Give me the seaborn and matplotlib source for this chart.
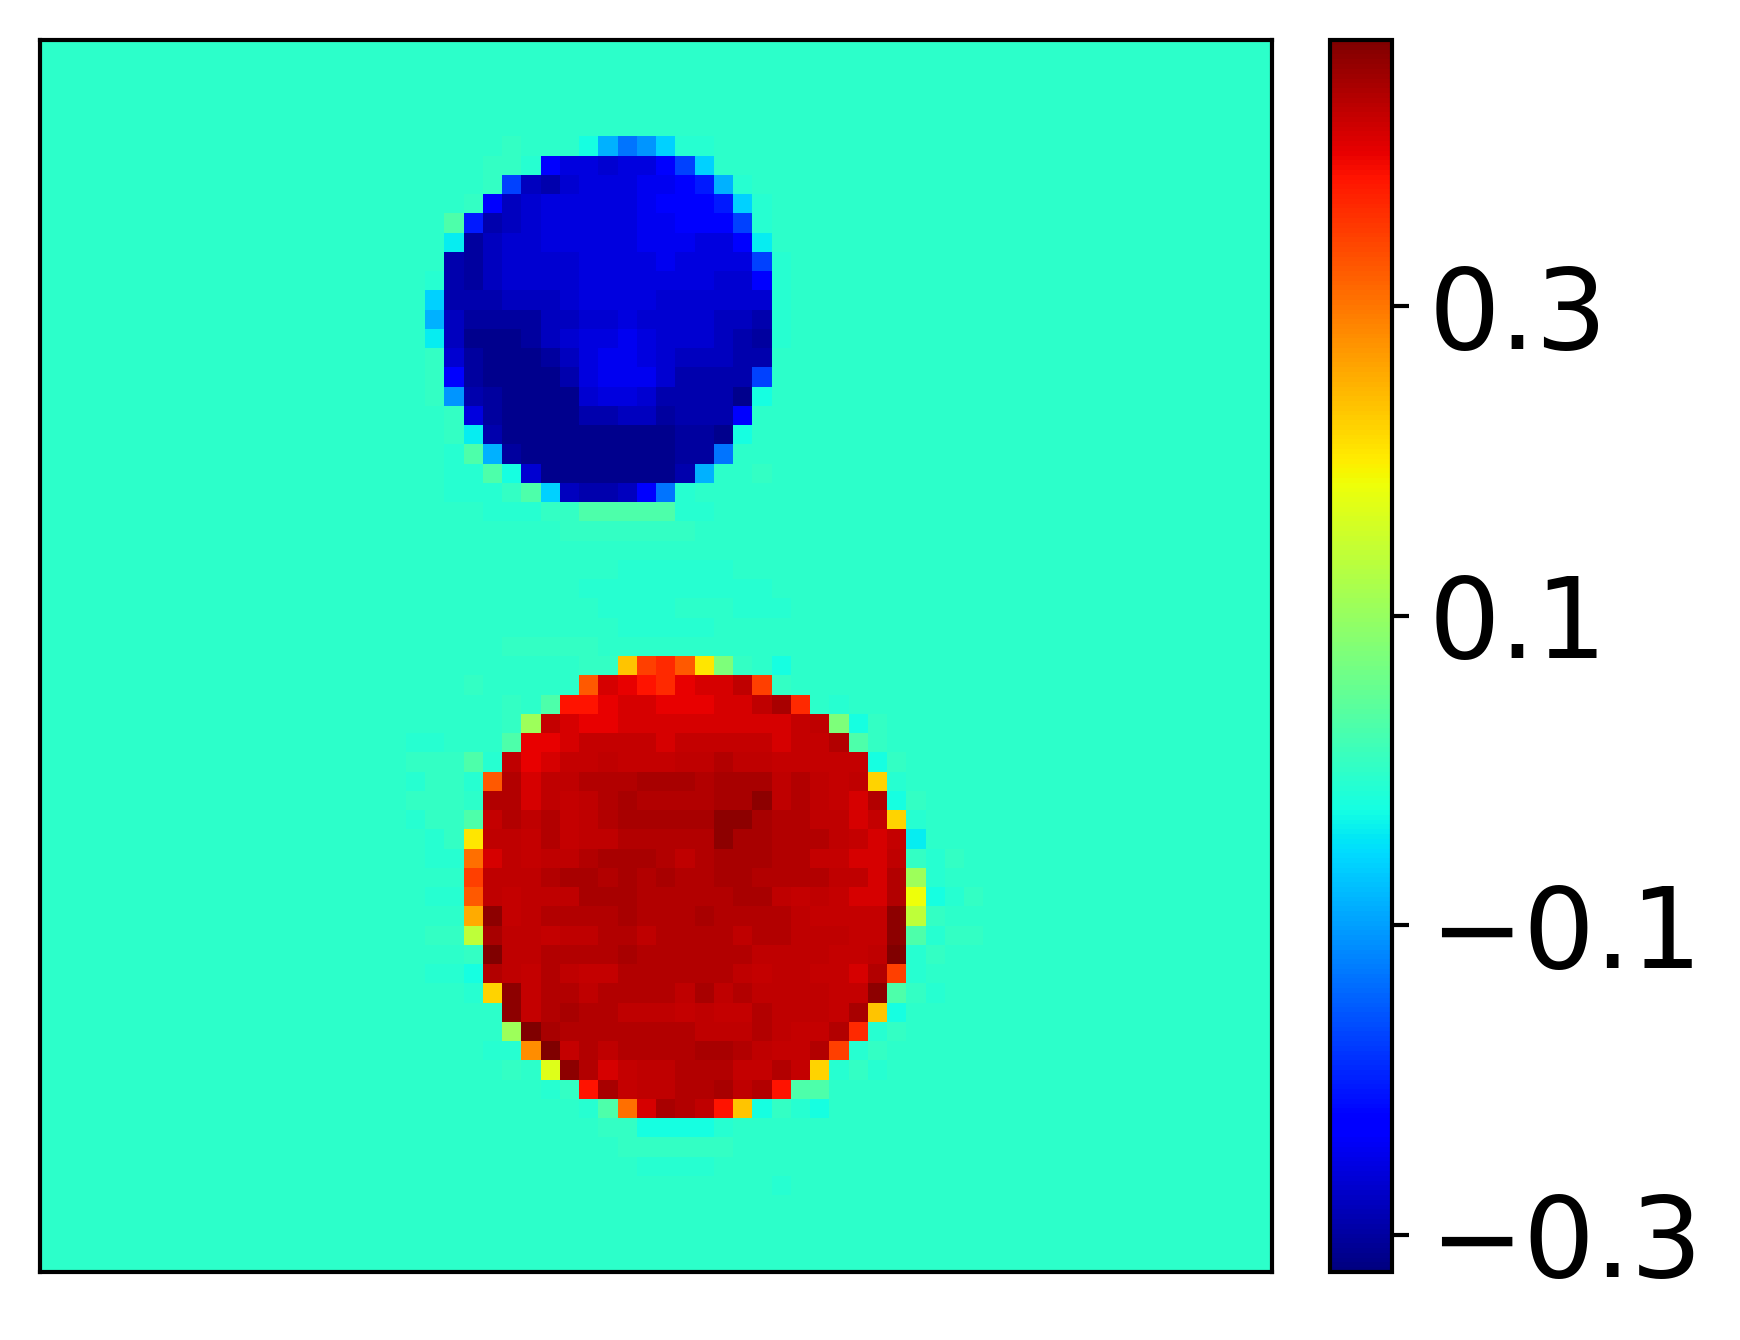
import numpy as np
import matplotlib
matplotlib.use("Agg")
import matplotlib.pyplot as plt
import seaborn as sns

# colour-level code -> field value
level_codes = list("abcdefghijklmnopq.rstuvwxyzABCDEFGHIJKLMNOP")
level_values = [-0.312, -0.300, -0.292, -0.280, -0.268, -0.256, -0.246, -0.236,
                -0.205, -0.173, -0.133, -0.109, -0.085, -0.061, -0.041, -0.025,
                -0.007, -0.002, 0.004, 0.030, 0.074, 0.106, 0.138, 0.170, 0.185,
                0.205, 0.221, 0.233, 0.257, 0.281, 0.305, 0.325, 0.345, 0.365,
                0.384, 0.400, 0.412, 0.424, 0.428, 0.436, 0.444, 0.460, 0.472]
grid_size = 64
cbar_ticks = [-0.3, -0.1, 0.1, 0.3]

# (row, first column, coded cells)
blue_rows = [
    (5, 20, "....r...pmklnqq"),
    (6, 20, "...rrqhffeffhjn"),
    (7, 20, "...rjdcefffgghimq"),
    (8, 20, "..rhdefffffghhhinq"),
    (9, 20, ".sicdefffffgghhhjq"),
    (10, 20, ".obdeefffffgggffho"),
    (11, 20, ".cbdeeeeffffgffffjq"),
    (12, 20, "qcbdeeeefffffffeehq"),
    (13, 20, "ncccdddeffffeeeeeeq"),
    (14, 20, "mdbbbbddeefeeeeddcq"),
    (15, 20, "odaaabdeffgfeeedcbq"),
    (16, 20, "rebaaabdfggfedddcc"),
    (17, 20, "rhbaaaacfgggeccccj"),
    (18, 20, "rlcbaaaaeffeccccap"),
    (19, 20, ".rfbaaaaccddbccch"),
    (20, 20, ".rocaaaaaaaaabbap"),
    (21, 20, ".qsmbaaaaaaaabbk"),
    (22, 20, ".qqspeaaaaaaacm..r"),
    (23, 20, ".qqqrsndccdhkq"),
    (24, 20, "...qqqrrsssssqq"),
]
red_rows = [
    (31, 22, "..rrrrr"),
    (32, 22, "......rrAFGEytr.p"),
    (33, 22, "r.....EJIHGIJJLFr"),
    (34, 22, "..r.sHHIJJIIIJJLNG.q"),
    (35, 22, "..ruKJIIJJJJJJJJJKLtpr"),
    (36, 22, "..sIIJKKKKJKKKKKJKKMsr"),
    (37, 22, "sqLIJKKLKKKLLMLLKKKKKpr"),
    (38, 22, "qEMJLLMMMNNNMNNNLMLKLzq"),
    (39, 22, ".MMJLKLMNMMMMNNOLMLKJMpr"),
    (40, 22, "sKMLMKLMNNNNNOONMMLLJKzq"),
    (41, 22, "yLLKMKLLMMMMMONNMMMLKJKo"),
    (42, 22, "DJLKLLMNNNMLMNNNMMKKJJLrq"),
    (43, 22, "FLLLMNNMNMNMMNNMMMMLLJMuq"),
    (44, 22, "ELKLLLNNNMMMMMNNLKLKJJMxp"),
    (45, 22, "BOKLMMMMNMMMNMMMMLKKKKOvr"),
    (46, 22, "vNLLKLLMMLMMMMLMMLLLKKOsq"),
    (47, 22, "rPLLMMMMNMMMMMMLLLLKKLPqr"),
    (48, 22, "pMLKMLKKMMMMMMLKLLKKJMFq"),
    (49, 22, "qzOKMMLMMMMLNLMLLLLKKOsrq"),
    (50, 22, "..OKMNMMLLLKLKKMLLLKNAp"),
    (51, 22, "..uPNMMMMMMMLLLMLKKMGqr"),
    (52, 22, ".qqCPKMLMMMMNNMLKKMFqr"),
    (53, 22, "..r.wOMJKLLMMMKKMKzqrq"),
    (54, 22, "....qrHNKLLMMNLMHss"),
    (55, 22, "......qsDJNMLHAprqp"),
    (56, 22, ".......rrppppq"),
]
halo_rows = [
    (25, 27, "rrrrrrr"),
    (27, 30, "qqqqqq"),
    (28, 28, "qqqqqqqqqq"),
    (29, 29, "qqqq...qqq"),
    (30, 30, "qqqqq"),
    (36, 19, "qq"),
    (37, 19, "rrr"),
    (38, 19, "qrr"),
    (39, 19, "rrr"),
    (40, 19, "qrr"),
    (41, 20, "qr"),
    (42, 20, "qq"),
    (44, 20, "qq"),
    (46, 20, "rr"),
    (48, 20, "qq"),
    (42, 47, "r"),
    (44, 47, "qr"),
    (46, 47, "rr"),
    (57, 30, "rrrrrr"),
    (58, 31, "qqqq"),
    (59, 38, "q"),
]

value_of = dict(zip(level_codes, level_values))
field = np.full((grid_size, grid_size), value_of["."])
for rows in (halo_rows, blue_rows, red_rows):
    for row, col, cells in rows:
        for k, code in enumerate(cells):
            field[row, col + k] = value_of[code]

sns.set_theme(style="white", rc={"axes.linewidth": 1.0, "axes.edgecolor": "black"})
plt.rcParams["font.family"] = ["DejaVu Sans"]

W, H = 1740, 1340
fig = plt.figure(figsize=(W / 300, H / 300), dpi=300)
ax = fig.add_axes([40 / W, 1 - 1272 / H, 1232 / W, 1232 / H])
cax = fig.add_axes([1330 / W, 1 - 1272 / H, 62 / W, 1232 / H])

sns.heatmap(field, ax=ax, cbar_ax=cax, cmap="jet", vmin=-0.324, vmax=0.472,
            xticklabels=False, yticklabels=False, square=False,
            cbar_kws={"ticks": cbar_ticks})

for s in ax.spines.values():
    s.set_visible(True)
    s.set_linewidth(1.0)
    s.set_edgecolor("black")
cbar = ax.collections[0].colorbar
cbar.outline.set_linewidth(1.0)
cbar.outline.set_edgecolor("black")
cbar.set_ticks(cbar_ticks)
cbar.set_ticklabels(["\u22120.3", "\u22120.1", "0.1", "0.3"])
cax.tick_params(labelsize=27, length=4, width=1, color="black", labelcolor="black",
                pad=4.8, right=True)

fig.savefig("out.png", dpi=300, facecolor="white")
